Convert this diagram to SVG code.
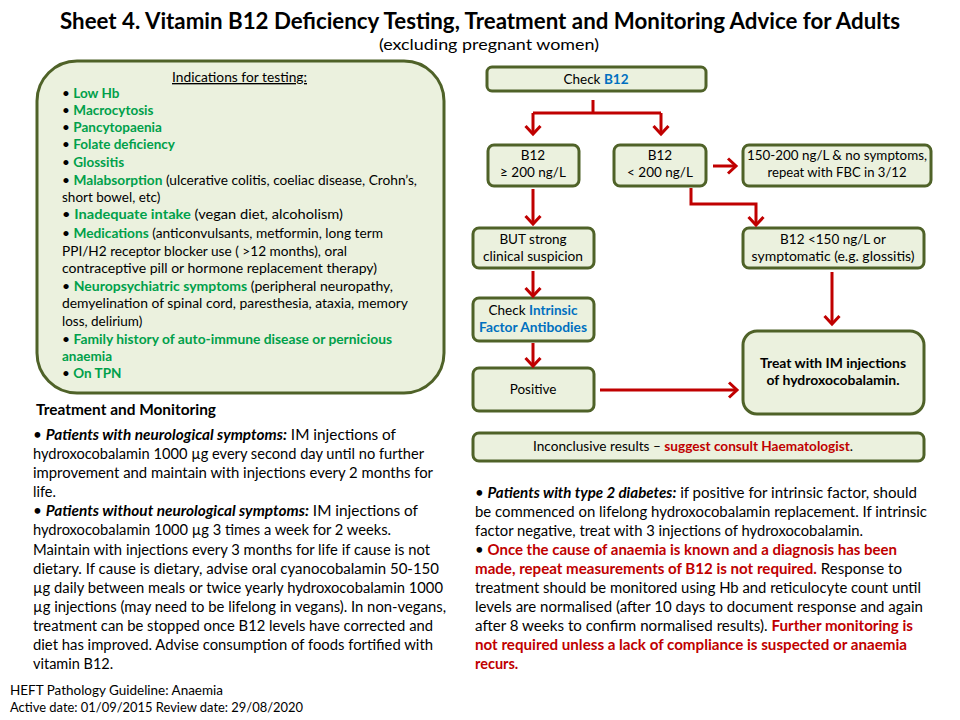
<svg xmlns="http://www.w3.org/2000/svg" width="960" height="720" viewBox="0 0 960 720">
<style>
text{font-family:Lato,"Liberation Sans",Arial,sans-serif;fill:#000}
.box{fill:#ebf1de;stroke:#4f6228;stroke-width:3}
.fb{font-size:13.5px;text-anchor:middle}
.lb{font-size:13.5px}
.g{fill:#00a04a;font-weight:bold}
.bl{fill:#0070c0;font-weight:bold}
.rd{fill:#c00000;font-weight:bold}
.bi{font-weight:bold;font-style:italic}
.bt{font-size:14.5px}
.conn path{fill:none;stroke:#c00000;stroke-width:3}
</style>
<defs>
<marker id="ah" markerUnits="userSpaceOnUse" markerWidth="18" markerHeight="18" viewBox="0 0 18 18" refX="15" refY="9" orient="auto">
<path d="M7,1.5 L15,9 L7,16.5" fill="none" stroke="#c00000" stroke-width="3"/>
</marker>
</defs>
<rect width="960" height="720" fill="#fff"/>

<g id="title">
<text x="480" y="29" font-size="22.5" font-weight="bold" text-anchor="middle" textLength="840" lengthAdjust="spacingAndGlyphs">Sheet 4. Vitamin B12 Deficiency Testing, Treatment and Monitoring Advice for Adults</text>
<text x="489" y="50" font-size="15.5" text-anchor="middle" textLength="220" lengthAdjust="spacingAndGlyphs">(excluding pregnant women)</text>
</g>

<g id="indications">
<rect class="box" x="37" y="61" width="407" height="332" rx="40"/>
<text class="lb" x="239.5" y="82" text-anchor="middle" text-decoration="underline" textLength="135" lengthAdjust="spacingAndGlyphs">Indications for testing:</text>
<text class="lb" x="62" y="98">• <tspan class="g">Low Hb</tspan></text>
<text class="lb" x="62" y="115">• <tspan class="g">Macrocytosis</tspan></text>
<text class="lb" x="62" y="132">• <tspan class="g">Pancytopaenia</tspan></text>
<text class="lb" x="62" y="149">• <tspan class="g">Folate deficiency</tspan></text>
<text class="lb" x="62" y="167">• <tspan class="g">Glossitis</tspan></text>
<text class="lb" x="62" y="185" textLength="355" lengthAdjust="spacingAndGlyphs">• <tspan class="g">Malabsorption</tspan> (ulcerative colitis, coeliac disease, Crohn’s,</text>
<text class="lb" x="62" y="202">short bowel, etc)</text>
<text class="lb" x="62" y="219" textLength="281" lengthAdjust="spacingAndGlyphs">• <tspan class="g">Inadequate intake</tspan> (vegan diet, alcoholism)</text>
<text class="lb" x="62" y="238" textLength="321" lengthAdjust="spacingAndGlyphs">• <tspan class="g">Medications</tspan> (anticonvulsants, metformin, long term</text>
<text class="lb" x="62" y="256" textLength="285" lengthAdjust="spacingAndGlyphs">PPI/H2 receptor blocker use ( &gt;12 months), oral</text>
<text class="lb" x="62" y="273" textLength="315" lengthAdjust="spacingAndGlyphs">contraceptive pill or hormone replacement therapy)</text>
<text class="lb" x="62" y="291" textLength="331" lengthAdjust="spacingAndGlyphs">• <tspan class="g">Neuropsychiatric symptoms</tspan> (peripheral neuropathy,</text>
<text class="lb" x="62" y="308" textLength="346" lengthAdjust="spacingAndGlyphs">demyelination of spinal cord, paresthesia, ataxia, memory</text>
<text class="lb" x="62" y="326">loss, delirium)</text>
<text class="lb" x="62" y="344" textLength="330" lengthAdjust="spacingAndGlyphs">• <tspan class="g">Family history of auto-immune disease or pernicious</tspan></text>
<text class="lb g" x="62" y="361">anaemia</text>
<text class="lb" x="62" y="378">• <tspan class="g">On TPN</tspan></text>
</g>

<g id="check-b12">
<rect class="box" x="487" y="67" width="219" height="24" rx="5"/>
<text class="fb" x="596" y="84">Check <tspan class="bl">B12</tspan></text>
</g>
<g id="b12-ge-200">
<rect class="box" x="488" y="145" width="91" height="41" rx="6"/>
<text class="fb" x="533" y="160">B12</text>
<text class="fb" x="533" y="177">≥ 200 ng/L</text>
</g>
<g id="b12-lt-200">
<rect class="box" x="614" y="145" width="92" height="41" rx="6"/>
<text class="fb" x="660" y="160">B12</text>
<text class="fb" x="660" y="177">&lt; 200 ng/L</text>
</g>
<g id="repeat">
<rect class="box" x="743" y="145" width="188" height="41" rx="6"/>
<text class="fb" x="837" y="160" textLength="180" lengthAdjust="spacingAndGlyphs">150-200 ng/L &amp; no symptoms,</text>
<text class="fb" x="837" y="177" textLength="139" lengthAdjust="spacingAndGlyphs">repeat with FBC in 3/12</text>
</g>
<g id="strong-suspicion">
<rect class="box" x="473" y="228" width="121" height="40" rx="6"/>
<text class="fb" x="533" y="244">BUT strong</text>
<text class="fb" x="533" y="261" textLength="100" lengthAdjust="spacingAndGlyphs">clinical suspicion</text>
</g>
<g id="b12-lt-150">
<rect class="box" x="743" y="228" width="181" height="40" rx="6"/>
<text class="fb" x="833" y="244">B12 &lt;150 ng/L or</text>
<text class="fb" x="833" y="261" textLength="163" lengthAdjust="spacingAndGlyphs">symptomatic (e.g. glossitis)</text>
</g>
<g id="intrinsic-factor">
<rect class="box" x="473" y="298" width="121" height="43" rx="6"/>
<text class="fb" x="533" y="315">Check <tspan class="bl">Intrinsic</tspan></text>
<text class="fb bl" x="533" y="332" textLength="108" lengthAdjust="spacingAndGlyphs">Factor Antibodies</text>
</g>
<g id="positive">
<rect class="box" x="473" y="368" width="121" height="43" rx="6"/>
<text class="fb" x="533" y="394">Positive</text>
</g>
<g id="treat">
<rect class="box" x="743" y="331" width="181" height="83" rx="14"/>
<text class="fb" x="833" y="368" font-weight="bold" textLength="146" lengthAdjust="spacingAndGlyphs">Treat with IM injections</text>
<text class="fb" x="833" y="385" font-weight="bold" textLength="133" lengthAdjust="spacingAndGlyphs">of hydroxocobalamin.</text>
</g>
<g id="inconclusive">
<rect class="box" x="473" y="433" width="451" height="28" rx="6"/>
<text class="fb" x="693" y="451" textLength="320" lengthAdjust="spacingAndGlyphs">Inconclusive results – <tspan class="rd">suggest consult Haematologist</tspan>.</text>
</g>

<g id="connectors" class="conn">
<path d="M593,100 V113"/>
<path d="M533,113 H661"/>
<path d="M533,113 V134" marker-end="url(#ah)"/>
<path d="M661,113 V134" marker-end="url(#ah)"/>
<path d="M533,189 V224" marker-end="url(#ah)"/>
<path d="M713,166 H736" marker-end="url(#ah)"/>
<path d="M691,188 V204 H756 V225" marker-end="url(#ah)"/>
<path d="M533,271 V296" marker-end="url(#ah)"/>
<path d="M533,343 V366" marker-end="url(#ah)"/>
<path d="M600,390 H737" marker-end="url(#ah)"/>
<path d="M832,272 V324" marker-end="url(#ah)"/>
</g>

<g id="treatment-monitoring">
<text x="36" y="415" font-size="14.5" font-weight="bold" textLength="180" lengthAdjust="spacingAndGlyphs">Treatment and Monitoring</text>
<text class="bt" x="33" y="440" textLength="363" lengthAdjust="spacingAndGlyphs">• <tspan class="bi">Patients with neurological symptoms:</tspan> IM injections of</text>
<text class="bt" x="33" y="459" textLength="391" lengthAdjust="spacingAndGlyphs">hydroxocobalamin 1000 µg every second day until no further</text>
<text class="bt" x="33" y="478" textLength="400" lengthAdjust="spacingAndGlyphs">improvement and maintain with injections every 2 months for</text>
<text class="bt" x="33" y="497">life.</text>
<text class="bt" x="33" y="516" textLength="385" lengthAdjust="spacingAndGlyphs">• <tspan class="bi">Patients without neurological symptoms:</tspan> IM injections of</text>
<text class="bt" x="33" y="535" textLength="358" lengthAdjust="spacingAndGlyphs">hydroxocobalamin 1000 µg 3 times a week for 2 weeks.</text>
<text class="bt" x="33" y="555" textLength="397" lengthAdjust="spacingAndGlyphs">Maintain with injections every 3 months for life if cause is not</text>
<text class="bt" x="33" y="574" textLength="406" lengthAdjust="spacingAndGlyphs">dietary. If cause is dietary, advise oral cyanocobalamin 50-150</text>
<text class="bt" x="33" y="593" textLength="410" lengthAdjust="spacingAndGlyphs">µg daily between meals or twice yearly hydroxocobalamin 1000</text>
<text class="bt" x="33" y="612" textLength="413" lengthAdjust="spacingAndGlyphs">µg injections (may need to be lifelong in vegans). In non-vegans,</text>
<text class="bt" x="33" y="631" textLength="400" lengthAdjust="spacingAndGlyphs">treatment can be stopped once B12 levels have corrected and</text>
<text class="bt" x="33" y="650" textLength="400" lengthAdjust="spacingAndGlyphs">diet has improved. Advise consumption of foods fortified with</text>
<text class="bt" x="33" y="669">vitamin B12.</text>
</g>

<g id="footer">
<text x="10" y="695" font-size="13.5" textLength="213" lengthAdjust="spacingAndGlyphs">HEFT Pathology Guideline: Anaemia</text>
<text x="10" y="712" font-size="13.5" textLength="293" lengthAdjust="spacingAndGlyphs">Active date: 01/09/2015 Review date: 29/08/2020</text>
</g>

<g id="notes">
<text class="bt" x="475" y="498" textLength="442" lengthAdjust="spacingAndGlyphs">• <tspan class="bi">Patients with type 2 diabetes:</tspan> if positive for intrinsic factor, should</text>
<text class="bt" x="475" y="517" textLength="452" lengthAdjust="spacingAndGlyphs">be commenced on lifelong hydroxocobalamin replacement. If intrinsic</text>
<text class="bt" x="475" y="536" textLength="388" lengthAdjust="spacingAndGlyphs">factor negative, treat with 3 injections of hydroxocobalamin.</text>
<text class="bt" x="475" y="555" textLength="422" lengthAdjust="spacingAndGlyphs">• <tspan class="rd">Once the cause of anaemia is known and a diagnosis has been</tspan></text>
<text class="bt" x="475" y="574" textLength="427" lengthAdjust="spacingAndGlyphs"><tspan class="rd">made, repeat measurements of B12 is not required.</tspan> Response to</text>
<text class="bt" x="475" y="593" textLength="446" lengthAdjust="spacingAndGlyphs">treatment should be monitored using Hb and reticulocyte count until</text>
<text class="bt" x="475" y="612" textLength="448" lengthAdjust="spacingAndGlyphs">levels are normalised (after 10 days to document response and again</text>
<text class="bt" x="475" y="631" textLength="438" lengthAdjust="spacingAndGlyphs">after 8 weeks to confirm normalised results). <tspan class="rd">Further monitoring is</tspan></text>
<text class="bt rd" x="475" y="650" textLength="432" lengthAdjust="spacingAndGlyphs">not required unless a lack of compliance is suspected or anaemia</text>
<text class="bt rd" x="475" y="669">recurs.</text>
</g>
</svg>
